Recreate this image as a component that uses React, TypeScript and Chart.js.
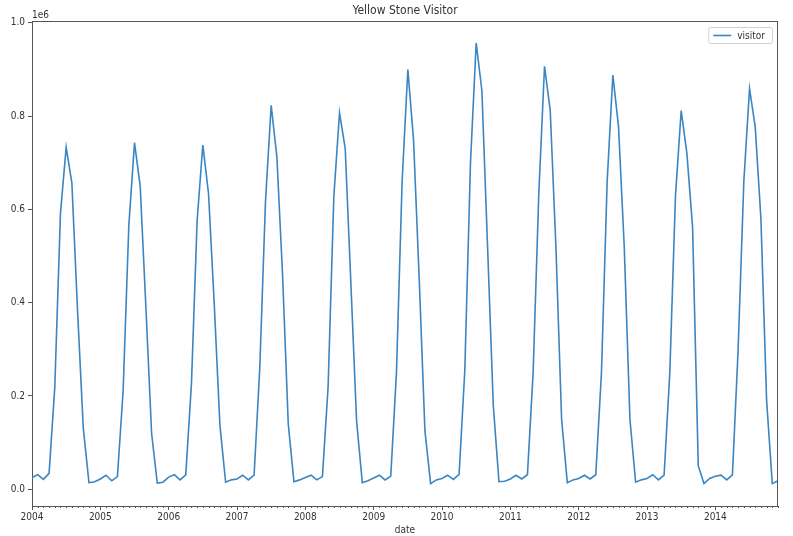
import React, { useEffect, useRef } from "react";
import { Chart, registerables } from "chart.js";

Chart.register(...registerables);

const years = [2004, 2005, 2006, 2007, 2008, 2009, 2010, 2011, 2012, 2013, 2014];
const v2004 = [25000, 31000, 21000, 34000, 218000, 592000, 733000, 657000, 383000, 132000, 14000, 16000];
const v2005 = [22000, 30000, 18000, 27000, 210000, 565000, 743000, 650000, 390000, 120000, 13000, 15000];
const v2006 = [26000, 31000, 20000, 31000, 226000, 577000, 738000, 634000, 398000, 137000, 15000, 20000];
const v2007 = [22000, 30000, 20000, 30000, 260000, 617000, 823000, 713000, 460000, 140000, 16000, 20000];
const v2008 = [25000, 30000, 20000, 27000, 220000, 627000, 807000, 731000, 440000, 146000, 14000, 18000];
const v2009 = [24000, 30000, 20000, 28000, 250000, 662000, 900000, 749000, 450000, 125000, 12000, 20000];
const v2010 = [23000, 30000, 21000, 32000, 254000, 700000, 957000, 855000, 520000, 180000, 16000, 17000];
const v2011 = [22000, 30000, 22000, 31000, 250000, 635000, 907000, 813000, 520000, 150000, 14000, 20000];
const v2012 = [23000, 30000, 22000, 31000, 250000, 660000, 888000, 777000, 520000, 150000, 15000, 20000];
const v2013 = [23000, 31000, 20000, 30000, 250000, 630000, 812000, 720000, 562000, 50000, 12000, 23000];
const v2014 = [28000, 30000, 20000, 31000, 300000, 660000, 859000, 777000, 580000, 190000, 12000, 18000];
const yTicks = [0, 200000, 400000, 600000, 800000, 1000000];

const seriesLabel = "visitor";
const titleText = "Yellow Stone Visitor";
const xLabel = "date";
const offsetText = "1e6";

const FONT = "'DejaVu Sans Condensed', 'DejaVu Sans', sans-serif";
const TEXT = "#333333";
const SPINE = "#555555";
const LINE = "#3a86c4";

const allYears = [v2004, v2005, v2006, v2007, v2008, v2009, v2010, v2011, v2012, v2013, v2014];

export default function App() {
  const ref = useRef<HTMLCanvasElement | null>(null);

  useEffect(() => {
    if (!ref.current) return;
    const points: { x: number; y: number }[] = [];
    allYears.forEach((arr, yi) => arr.forEach((v, m) => points.push({ x: yi * 12 + m, y: v })));
    const lastX = points.length - 1;

    const extras = {
      id: "extras",
      afterDraw(chart: any) {
        const { ctx, chartArea } = chart;
        const xs = chart.scales.x;
        ctx.save();
        // top & right spines
        ctx.strokeStyle = SPINE;
        ctx.lineWidth = 1;
        ctx.beginPath();
        ctx.moveTo(chartArea.left, chartArea.top + 0.5);
        ctx.lineTo(chartArea.right, chartArea.top + 0.5);
        ctx.moveTo(chartArea.right - 0.5, chartArea.top);
        ctx.lineTo(chartArea.right - 0.5, chartArea.bottom);
        ctx.stroke();
        // minor ticks
        ctx.beginPath();
        for (let i = 0; i <= lastX; i++) {
          if (i % 12 === 0) continue;
          const px = Math.round(xs.getPixelForValue(i)) + 0.5;
          ctx.moveTo(px, chartArea.bottom);
          ctx.lineTo(px, chartArea.bottom + 2);
        }
        ctx.stroke();
        // offset text
        ctx.fillStyle = TEXT;
        ctx.font = `10px ${FONT}`;
        ctx.textAlign = "left";
        ctx.textBaseline = "alphabetic";
        ctx.fillText(offsetText, chartArea.left, chartArea.top - 3);
        // legend
        ctx.font = `10px ${FONT}`;
        const tw = ctx.measureText(seriesLabel).width;
        const bw = 6 + 18 + 6 + tw + 6;
        const bh = 16;
        const bx = chartArea.right - 6 - bw;
        const by = chartArea.top + 6;
        ctx.beginPath();
        ctx.fillStyle = "rgba(255,255,255,0.85)";
        ctx.strokeStyle = "#d0d0d0";
        (ctx as any).roundRect ? (ctx as any).roundRect(bx + 0.5, by + 0.5, bw, bh, 2) : ctx.rect(bx + 0.5, by + 0.5, bw, bh);
        ctx.fill();
        ctx.stroke();
        ctx.beginPath();
        ctx.strokeStyle = chart.data.datasets[0].borderColor;
        ctx.lineWidth = 1.6;
        ctx.moveTo(bx + 5, by + bh / 2 + 0.5);
        ctx.lineTo(bx + 23, by + bh / 2 + 0.5);
        ctx.stroke();
        ctx.fillStyle = TEXT;
        ctx.textBaseline = "middle";
        ctx.fillText(chart.data.datasets[0].label, bx + 29, by + bh / 2 + 1);
        ctx.restore();
      },
    };

    const chart = new Chart(ref.current, {
      type: "line",
      data: {
        datasets: [
          {
            label: seriesLabel,
            data: points,
            borderColor: LINE,
            borderWidth: 1.6,
            pointRadius: 0,
            tension: 0,
            fill: false,
          },
        ],
      },
      options: {
        responsive: false,
        animation: false,
        events: [],
        layout: { padding: { left: 0, right: 15, top: 0, bottom: 0 } },
        plugins: {
          legend: { display: false },
          tooltip: { enabled: false },
          title: {
            display: true,
            fullSize: false,
            text: titleText,
            color: TEXT,
            font: { family: FONT, size: 12, weight: "normal" },
            padding: { top: 4, bottom: 2.6 },
          },
        },
        scales: {
          x: {
            type: "linear",
            min: 0,
            max: lastX,
            afterBuildTicks: (s: any) => {
              s.ticks = years.map((_, i) => ({ value: i * 12 }));
            },
            afterFit: (s: any) => {
              s.height = 30;
            },
            ticks: {
              color: TEXT,
              font: { family: FONT, size: 10 },
              padding: 1,
              maxRotation: 0,
              autoSkip: false,
              callback: (v: any) => String(years[0] + Math.round(Number(v) / 12)),
            },
            grid: { drawOnChartArea: false, drawTicks: true, tickLength: 4, tickColor: SPINE },
            border: { display: true, color: SPINE, width: 1 },
            title: {
              display: true,
              text: xLabel,
              color: TEXT,
              font: { family: FONT, size: 10 },
              padding: { top: 0, bottom: 0 },
            },
          },
          y: {
            type: "linear",
            min: -36000,
            max: 1004000,
            afterBuildTicks: (s: any) => {
              s.ticks = yTicks.map((v) => ({ value: v }));
            },
            afterFit: (s: any) => {
              s.width = 32;
            },
            ticks: {
              color: TEXT,
              font: { family: FONT, size: 10 },
              padding: 3,
              callback: (v: any) => (Number(v) / 1e6).toFixed(1),
            },
            grid: { drawOnChartArea: false, drawTicks: true, tickLength: 4, tickColor: SPINE },
            border: { display: true, color: SPINE, width: 1 },
          },
        },
      },
      plugins: [extras],
    } as any);

    return () => chart.destroy();
  }, []);

  return (
    <div style={{ position: "absolute", left: 0, top: 0, width: 793, height: 536, background: "#fff" }}>
      <canvas ref={ref} width={793} height={536} style={{ display: "block" }} />
    </div>
  );
}
